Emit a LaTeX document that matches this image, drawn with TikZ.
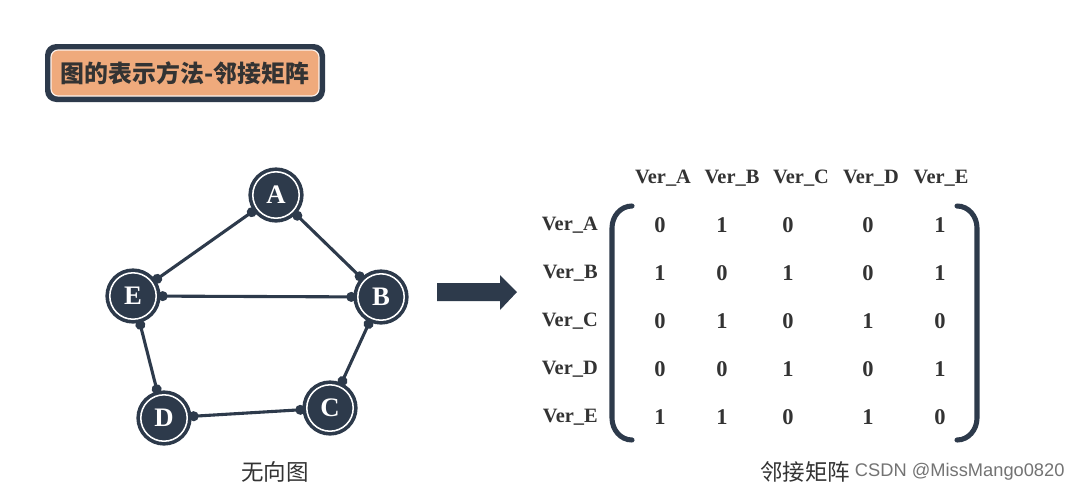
\documentclass[tikz,border=0pt]{standalone}
\usepackage{fontspec}
\setmainfont{Liberation Serif}
\newfontfamily\cjk{Noto Sans CJK SC}
\newfontfamily\wmfont{Liberation Sans}
\usetikzlibrary{arrows.meta}
\definecolor{navy}{HTML}{2D3A4B}
\definecolor{peach}{HTML}{EFAA7C}
\definecolor{ink}{HTML}{333333}
\begin{document}
\begin{tikzpicture}[x=0.025cm, y=-0.025cm]
\tikzstyle{vert}   = [circle, fill=navy, draw=white, line width=1.1pt, minimum size=1.16cm, inner sep=0pt, outer sep=0.11cm, preaction={draw=navy, line width=0.22cm}, text=white, font=\fontsize{19}{19}\selectfont\bfseries]
\tikzstyle{link}   = [line width=2.2pt, navy, shorten <=-2pt, shorten >=-2pt, {Circle[length=7pt, width=7pt]}-{Circle[length=7pt, width=7pt]}]
\tikzstyle{hdr}    = [text=ink, font=\fontsize{14.5}{14.5}\selectfont\bfseries, inner sep=0pt]
\tikzstyle{cell}   = [text=ink, font=\fontsize{16}{16}\selectfont\bfseries, inner sep=0pt]
\tikzstyle{brace}  = [line width=3.6pt, navy, line cap=round]
\useasboundingbox[fill=white] (0,0) rectangle (1080,495);
% title box
\fill[navy, rounded corners=8] (45,44) rectangle (325,102);
\filldraw[fill=peach, draw=white!85!peach, line width=0.8pt, rounded corners=5] (51,50) rectangle (319,96);
\node[text=ink, font=\cjk\bfseries\fontsize{17}{17}\selectfont] at (185,73) (title) {图的表示方法-邻接矩阵};
% graph
\node[vert] at (276,195) (A) {A};
\node[vert] at (381,297) (B) {B};
\node[vert] at (133,296) (E) {E};
\node[vert] at (164,418) (D) {D};
\node[vert] at (330,408) (C) {C};
\draw[link] (A) -- (E);
\draw[link] (A) -- (B);
\draw[link] (E) -- (B);
\draw[link] (E) -- (D);
\draw[link] (B) -- (C);
\draw[link] (D) -- (C);
\node[text=ink, font=\cjk\fontsize{16}{16}\selectfont] at (275,472) (cap1) {无向图};
% arrow
\fill[navy] (437,283) -- (500,283) -- (500,275) -- (517,292) -- (500,310) -- (500,301) -- (437,301) -- cycle;
% matrix
\foreach \n/\x in {A/663, B/732, C/801, D/871, E/941}
  \node[hdr] at (\x,178) (h\n) {Ver\_\n};
\foreach \n/\y in {A/225, B/273, C/321, D/369, E/417}
  \node[hdr, anchor=east] at (598,\y) (r\n) {Ver\_\n};
\foreach \y [count=\i] in {225, 273, 321, 369, 417} {
  \foreach \x [count=\j] in {660, 722, 788, 868, 940} {
    \pgfmathtruncatemacro\v{{{0,1,0,0,1},{1,0,1,0,1},{0,1,0,1,0},{0,0,1,0,1},{1,1,0,1,0}}[\i-1][\j-1]}
    \node[cell] at (\x,\y) (m\i\j) {\v};
  }
}
\draw[brace] (632,206) to[out=180, in=90] (612,228) -- (612,418) to[out=-90, in=180] (632,440);
\draw[brace] (957,206) to[out=0, in=90] (977,228) -- (977,418) to[out=-90, in=0] (957,440);
\node[text=ink, font=\cjk\fontsize{16}{16}\selectfont] at (805,472) (cap2) {邻接矩阵};
\node[text=black!55, font=\wmfont\fontsize{13}{13}\selectfont, anchor=west] at (850,472) (wm) {CSDN @MissMango0820};
\end{tikzpicture}
\end{document}
